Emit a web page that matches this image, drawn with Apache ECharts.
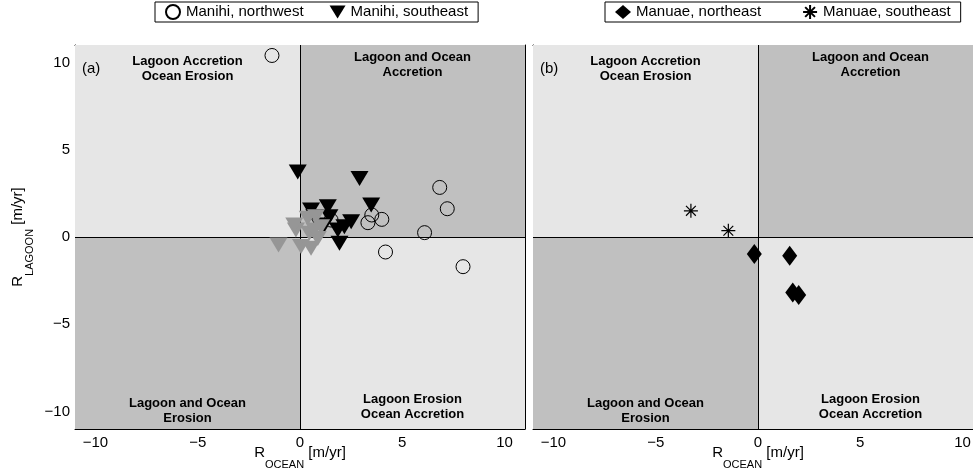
<!DOCTYPE html>
<html><head><meta charset="utf-8">
<script src="https://cdn.jsdelivr.net/npm/echarts@6/dist/echarts.min.js"></script>
<style>html,body{margin:0;padding:0;background:#fff}#c{width:973px;height:473px}</style>
</head><body><div id="c"></div>
<script>
// ---- data ----
const AXIS_MIN = -11, AXIS_MAX = 11;
const tickValues = [-10, -5, 0, 5, 10];
const manihiNW = [[-1.37,10.4],[6.83,2.84],[7.2,1.62],[6.09,0.25],[4.18,-0.86],[7.97,-1.7],[4.0,1.01],[3.51,1.26],[3.32,0.82],[1.52,0.97]];
const manihiSE = [[-0.11,3.73],[2.91,3.35],[3.48,1.83],[0.54,1.54],[1.36,1.73],[1.44,1.16],[2.5,0.88],[2.17,0.59],[1.85,0.4],[1.93,-0.36],[1.19,0.69],[0.7,1.16]];
const manihiSEgray = [[-1.05,-0.46],[0.05,-0.55],[0.54,-0.65],[-0.2,0.4],[-0.28,0.69],[0.38,1.07],[0.78,1.16],[1.03,0.59],[0.87,-0.08],[0.46,0.21],[0.7,0.4]];
const manuaeNE = [[-0.18,-0.97],[1.55,-1.07],[1.7,-3.18],[1.99,-3.33]];
const manuaeSE = [[-3.28,1.5],[-1.45,0.36]];
const quadrantLabels = {
  ul: 'Lagoon Accretion\nOcean Erosion',
  ur: 'Lagoon and Ocean\nAccretion',
  ll: 'Lagoon and Ocean\nErosion',
  lr: 'Lagoon Erosion\nOcean Accretion'
};
const panelLabels = ['(a)', '(b)'];
const legendA = ['Manihi, northwest', 'Manihi, southeast'];
const legendB = ['Manuae, northeast', 'Manuae, southeast'];

// ---- styles ----
const FONT = 'Liberation Sans, Arial, Helvetica, sans-serif';
const LIGHT = '#e6e6e6', DARK = '#c0c0c0';
const qLabel = (pos, dist) => ({show: true, position: pos, distance: dist, color: '#000', fontFamily: FONT, fontSize: 13, fontWeight: 'bold', lineHeight: 15, align: 'center'});

function backgroundSeries(ai) {
  return {
    type: 'scatter', data: [], xAxisIndex: ai, yAxisIndex: ai, silent: true, z: 1,
    markArea: {
      silent: true,
      data: [
        [{xAxis: AXIS_MIN, yAxis: AXIS_MAX, itemStyle: {color: LIGHT}, label: Object.assign(qLabel('insideTop', 9), {formatter: quadrantLabels.ul})}, {xAxis: 0, yAxis: 0}],
        [{xAxis: 0, yAxis: AXIS_MAX, itemStyle: {color: DARK}, label: Object.assign(qLabel('insideTop', 5), {formatter: quadrantLabels.ur})}, {xAxis: AXIS_MAX, yAxis: 0}],
        [{xAxis: AXIS_MIN, yAxis: 0, itemStyle: {color: DARK}, label: Object.assign(qLabel('insideBottom', 3), {formatter: quadrantLabels.ll})}, {xAxis: 0, yAxis: AXIS_MIN}],
        [{xAxis: 0, yAxis: 0, itemStyle: {color: LIGHT}, label: Object.assign(qLabel('insideBottom', 7), {formatter: quadrantLabels.lr})}, {xAxis: AXIS_MAX, yAxis: AXIS_MIN}]
      ]
    },
    markLine: {
      silent: true, symbol: 'none', animation: false,
      label: {show: false},
      lineStyle: {color: '#000', width: 1, type: 'solid'},
      data: [{xAxis: 0}, {yAxis: 0}]
    }
  };
}

const minus = v => String(v).replace('-', '\u2212');
const axisNameRich = {
  a: {fontSize: 15, fontFamily: FONT, color: '#000', verticalAlign: 'top', lineHeight: 25},
  b: {fontSize: 11, fontFamily: FONT, color: '#000', verticalAlign: 'bottom', lineHeight: 25}
};
function xAxes(gi) {
  return [
    {type: 'value', gridIndex: gi, min: AXIS_MIN, max: AXIS_MAX, position: 'bottom',
     axisLine: {show: true, onZero: false, lineStyle: {color: '#000', width: 1}},
     axisTick: {show: false}, splitLine: {show: false},
     axisLabel: {customValues: tickValues, formatter: minus, color: '#000', fontSize: 15, fontFamily: FONT, margin: 6},
     name: '{a|R}{b|OCEAN}{a| [m/yr]}', nameLocation: 'middle', nameGap: 16, nameMoveOverlap: false,
     nameTextStyle: {rich: axisNameRich}},
    {type: 'value', gridIndex: gi, min: AXIS_MIN, max: AXIS_MAX, position: 'top',
     axisLine: {show: true, onZero: false, lineStyle: {color: '#000', width: 1}},
     axisTick: {show: false}, splitLine: {show: false}, axisLabel: {show: false}}
  ];
}
function yAxes(gi, labels) {
  return [
    {type: 'value', gridIndex: gi, min: AXIS_MIN, max: AXIS_MAX, position: 'left',
     axisLine: {show: true, onZero: false, lineStyle: {color: '#000', width: 1}},
     axisTick: {show: false}, splitLine: {show: false},
     axisLabel: labels ? {customValues: tickValues, formatter: minus, color: '#000', fontSize: 15, fontFamily: FONT, margin: 5} : {show: false},
     name: labels ? '{a|R}{b|LAGOON}{a| [m/yr]}' : '', nameLocation: 'middle', nameGap: 40, nameRotate: 90, nameMoveOverlap: false,
     nameTextStyle: {rich: axisNameRich}},
    {type: 'value', gridIndex: gi, min: AXIS_MIN, max: AXIS_MAX, position: 'right',
     axisLine: {show: true, onZero: false, lineStyle: {color: '#000', width: 1}},
     axisTick: {show: false}, splitLine: {show: false}, axisLabel: {show: false}}
  ];
}

const TRI_DOWN = 'path://M0,0L20,0L10,16Z';
const ASTERISK = 'path://M10,0L10,20M0,10L20,10M3,3L17,17M17,3L3,17';

const legendCommon = {
  top: 2, orient: 'horizontal', borderColor: '#000', borderWidth: 1, borderRadius: 0,
  padding: [2, 10], itemWidth: 16, itemHeight: 14,
  textStyle: {fontSize: 15, fontFamily: FONT, color: '#000'}, selectedMode: false
};

const option = {
  animation: false,
  backgroundColor: '#fff',
  textStyle: {fontFamily: FONT},
  title: [
    {text: panelLabels[0], left: 77, top: 56, textStyle: {fontSize: 15, fontWeight: 'normal', color: '#000', fontFamily: FONT}},
    {text: panelLabels[1], left: 535, top: 56, textStyle: {fontSize: 15, fontWeight: 'normal', color: '#000', fontFamily: FONT}}
  ],
  legend: [
    Object.assign({}, legendCommon, {left: 155, itemGap: 26, data: legendA}),
    Object.assign({}, legendCommon, {left: 605, itemGap: 41, data: legendB})
  ],
  grid: [
    {left: 75, top: 45, width: 450, height: 384, outerBoundsMode: 'none'},
    {left: 533, top: 45, width: 450, height: 384, outerBoundsMode: 'none'}
  ],
  xAxis: [...xAxes(0), ...xAxes(1)],
  yAxis: [...yAxes(0, true), ...yAxes(1, false)],
  series: [
    backgroundSeries(0),
    backgroundSeries(2),
    {name: legendA[0], type: 'scatter', xAxisIndex: 0, yAxisIndex: 0, z: 3, data: manihiNW,
     symbol: 'circle', symbolSize: 14,
     itemStyle: {color: 'rgba(0,0,0,0)', borderColor: '#000', borderWidth: 1, opacity: 1}},
    {name: legendA[1], type: 'scatter', xAxisIndex: 0, yAxisIndex: 0, z: 4, data: manihiSE,
     symbol: TRI_DOWN, symbolSize: [18, 15],
     itemStyle: {color: '#000', opacity: 1}},
    {name: 'Manihi, southeast (grey)', type: 'scatter', xAxisIndex: 0, yAxisIndex: 0, z: 5, data: manihiSEgray,
     symbol: TRI_DOWN, symbolSize: [18, 15],
     itemStyle: {color: '#969696', opacity: 1}},
    {name: legendB[0], type: 'scatter', xAxisIndex: 2, yAxisIndex: 2, z: 3, data: manuaeNE,
     symbol: 'diamond', symbolSize: [15, 20],
     itemStyle: {color: '#000', opacity: 1}},
    {name: legendB[1], type: 'scatter', xAxisIndex: 2, yAxisIndex: 2, z: 3, data: manuaeSE,
     symbol: ASTERISK, symbolSize: 14,
     itemStyle: {color: '#000', borderColor: '#000', borderWidth: 1.2, opacity: 1}}
  ]
};
const chart = echarts.init(document.getElementById('c'), null, {renderer: 'canvas'});
chart.setOption(option);
</script></body></html>
